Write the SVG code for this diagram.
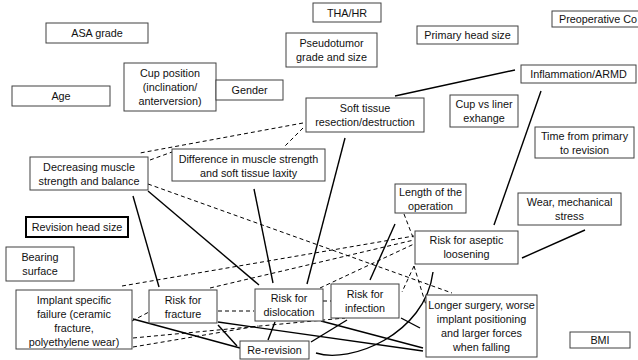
<svg xmlns="http://www.w3.org/2000/svg" width="638" height="360" viewBox="0 0 638 360">
<style>
rect{fill:#fff;stroke:#404040;stroke-width:1}
rect.thick{stroke:#000;stroke-width:2}
text{font-family:"Liberation Sans",Arial,sans-serif;font-size:10.8px;fill:#111;text-anchor:middle}
.s{stroke:#000;stroke-width:1.4;fill:none}
.d{stroke:#000;stroke-width:1;stroke-dasharray:4 3;fill:none}
</style>
<rect x="0" y="0" width="638" height="360" style="stroke:none;fill:#fff"/>
<g id="connectors">
<line class="s" x1="515" y1="70" x2="395" y2="96"/>
<line class="s" x1="541" y1="91" x2="494" y2="225"/>
<line class="s" x1="345" y1="138" x2="307" y2="284"/>
<line class="s" x1="254" y1="189" x2="273" y2="283"/>
<line class="s" x1="133" y1="196" x2="159" y2="287"/>
<line class="s" x1="148" y1="191" x2="259" y2="285"/>
<line class="s" x1="395" y1="224" x2="370" y2="280"/>
<line class="s" x1="585" y1="230" x2="522" y2="258"/>
<path class="s" d="M316,353 C350,364 425,335 433,272"/>
<line class="s" x1="133" y1="319" x2="240" y2="348"/>
<line class="s" x1="218" y1="325" x2="237" y2="346"/>
<line class="s" x1="275" y1="322" x2="268" y2="340"/>
<line class="s" x1="218" y1="322" x2="423" y2="351"/>
<line class="s" x1="321" y1="321" x2="423" y2="348"/>
<line class="s" x1="311" y1="342" x2="347" y2="320"/>
<line class="s" x1="401" y1="318" x2="420" y2="328"/>
<line class="d" x1="303" y1="123" x2="140" y2="153"/>
<line class="d" x1="303" y1="128" x2="285" y2="146"/>
<line class="d" x1="150" y1="160" x2="172" y2="152"/>
<line class="d" x1="148" y1="184" x2="452" y2="293"/>
<line class="d" x1="122" y1="286" x2="414" y2="236"/>
<line class="d" x1="210" y1="288" x2="414" y2="240"/>
<line class="d" x1="320" y1="288" x2="414" y2="244"/>
<line class="d" x1="218" y1="311" x2="254" y2="311"/>
<line class="d" x1="323" y1="301" x2="331" y2="301"/>
<line class="d" x1="132" y1="321" x2="149" y2="312"/>
<line class="d" x1="133" y1="338" x2="345" y2="318"/>
<line class="d" x1="133" y1="347" x2="258" y2="326"/>
<line class="d" x1="404" y1="214" x2="414" y2="240"/>
<line class="d" x1="414" y1="266" x2="402" y2="292"/>
<line class="d" x1="414" y1="266" x2="426" y2="305"/>
</g>
<g id="asa"><rect x="46" y="23" width="102" height="20"/><text x="97" y="37">ASA grade</text></g>
<g id="age"><rect x="12" y="86" width="98" height="20"/><text x="61" y="100">Age</text></g>
<g id="cup"><rect x="124" y="63" width="92" height="48"/><text x="170" y="77">Cup position</text><text x="170" y="91">(inclination/</text><text x="170" y="105">anterversion)</text></g>
<g id="gender"><rect x="216" y="80" width="67" height="20"/><text x="249.5" y="94">Gender</text></g>
<g id="tha"><rect x="313" y="3" width="68" height="19"/><text x="347" y="16.5">THA/HR</text></g>
<g id="pseudo"><rect x="286" y="33" width="91" height="34"/><text x="331.5" y="47">Pseudotumor</text><text x="331.5" y="61">grade and size</text></g>
<g id="primary"><rect x="417" y="26" width="101" height="18"/><text x="467.5" y="39">Primary head size</text></g>
<g id="preop"><rect x="552" y="11" width="100" height="16"/><text x="559" y="23" style="text-anchor:start">Preoperative Co</text></g>
<g id="inflam"><rect x="521" y="65" width="115" height="18"/><text x="578.5" y="78">Inflammation/ARMD</text></g>
<g id="soft"><rect x="306" y="98" width="118" height="34"/><text x="365" y="112">Soft tissue</text><text x="365" y="126">resection/destruction</text></g>
<g id="cupliner"><rect x="450" y="95" width="68" height="32"/><text x="484" y="108">Cup vs liner</text><text x="484" y="122">exhange</text></g>
<g id="time"><rect x="535" y="127" width="99" height="31"/><text x="584.5" y="140">Time from primary</text><text x="584.5" y="154">to revision</text></g>
<g id="length"><rect x="395" y="184" width="71" height="29"/><text x="430.5" y="196">Length of the</text><text x="430.5" y="210">operation</text></g>
<g id="wear"><rect x="518" y="193" width="103" height="32"/><text x="569.5" y="206">Wear, mechanical</text><text x="569.5" y="220">stress</text></g>
<g id="aseptic"><rect x="415" y="231" width="103" height="33"/><text x="466.5" y="244">Risk for aseptic</text><text x="466.5" y="258">loosening</text></g>
<g id="decr"><rect x="30" y="157" width="118" height="33"/><text x="89" y="171">Decreasing muscle</text><text x="89" y="185">strength and balance</text></g>
<g id="diff"><rect x="172" y="149" width="153" height="32"/><text x="248.5" y="163">Difference in muscle strength</text><text x="248.5" y="177">and soft tissue laxity</text></g>
<g id="revhead"><rect class="thick" x="26" y="217" width="102" height="20"/><text x="77" y="231">Revision head size</text></g>
<g id="bearing"><rect x="6" y="247" width="68" height="34"/><text x="40" y="261">Bearing</text><text x="40" y="275">surface</text></g>
<g id="implant"><rect x="16" y="290" width="116" height="59"/><text x="74" y="304">Implant specific</text><text x="74" y="318">failure (ceramic</text><text x="74" y="332">fracture,</text><text x="74" y="346">polyethylene wear)</text></g>
<g id="fracture"><rect x="149" y="290" width="68" height="33"/><text x="183" y="304">Risk for</text><text x="183" y="318">fracture</text></g>
<g id="disloc"><rect x="255" y="289" width="68" height="32"/><text x="289" y="302">Risk for</text><text x="289" y="316">dislocation</text></g>
<g id="infection"><rect x="331" y="284" width="68" height="34"/><text x="365" y="298">Risk for</text><text x="365" y="312">infection</text></g>
<g id="rerev"><rect x="240" y="341" width="69" height="18"/><text x="274.5" y="354">Re-revision</text></g>
<g id="longer"><rect x="426" y="295" width="111" height="62"/><text x="481.5" y="309">Longer surgery, worse</text><text x="481.5" y="323">implant positioning</text><text x="481.5" y="337">and larger forces</text><text x="481.5" y="351">when falling</text></g>
<g id="bmi"><rect x="570" y="332" width="60" height="16"/><text x="600" y="344">BMI</text></g>
</svg>
